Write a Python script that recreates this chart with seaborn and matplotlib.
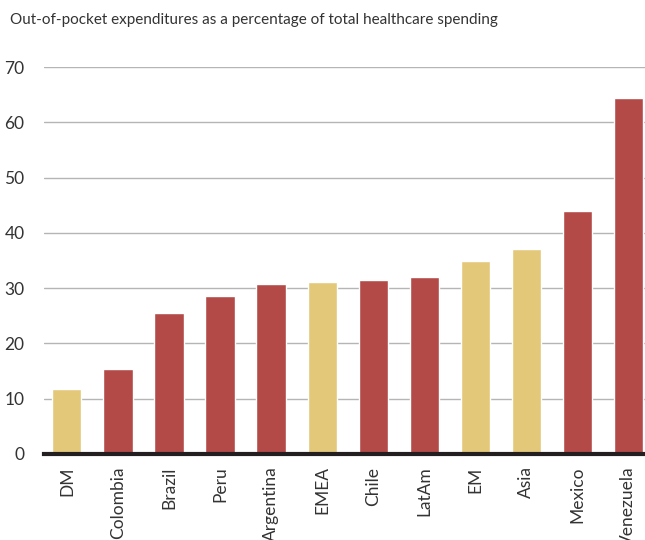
import matplotlib
matplotlib.use("Agg")
import matplotlib.pyplot as plt
import seaborn as sns
import pandas as pd

categories = ["DM", "Colombia", "Brazil", "Peru", "Argentina", "EMEA", "Chile",
              "LatAm", "EM", "Asia", "Mexico", "Venezuela"]
values = [11.8, 15.4, 25.5, 28.6, 30.7, 31.1, 31.5, 32.0, 34.9, 37.1, 43.9, 64.4]
groups = ["agg", "cty", "cty", "cty", "cty", "agg", "cty", "cty", "agg", "agg", "cty", "cty"]
yticks = [0, 10, 20, 30, 40, 50, 60, 70]

RED = "#B34A48"
GOLD = "#E3C87A"
palette = {"cty": RED, "agg": GOLD}

sns.set_theme(style="white")
plt.rcParams["font.family"] = ["Lato", "DejaVu Sans"]

df = pd.DataFrame({"category": categories, "value": values, "group": groups})

fig = plt.figure(figsize=(6.45, 5.4), dpi=100)
ax = fig.add_axes([44 / 645, 1 - 454 / 540, 1 - 44 / 645, (454 - 67) / 540])

sns.barplot(data=df, x="category", y="value", hue="group", palette=palette,
            dodge=False, width=0.57, legend=False, ax=ax, saturation=1,
            zorder=3)

ax.set_xlim(-0.45, 11.33)
ax.set_ylim(0, 70)
ax.set_yticks(yticks)
ax.yaxis.grid(True, color="#B5B5B5", linewidth=1.0, zorder=0)
ax.xaxis.grid(False)
ax.set_axisbelow(True)
for s in ["top", "right", "left"]:
    ax.spines[s].set_visible(False)
ax.spines["bottom"].set_color("#231F20")
ax.spines["bottom"].set_linewidth(3)
ax.spines["bottom"].set_zorder(4)
ax.tick_params(axis="both", length=0, labelsize=12.5, colors="#333333")
ax.tick_params(axis="y", pad=14)
ax.tick_params(axis="x", pad=9)
plt.setp(ax.get_xticklabels(), rotation=90)
ax.set_xlabel("")
ax.set_ylabel("")

fig.text(10 / 645, 1 - 20 / 540, "Out-of-pocket expenditures as a percentage of total healthcare spending",
         fontsize=11, color="#333333", va="center", ha="left")

fig.savefig("out.png", dpi=100)
